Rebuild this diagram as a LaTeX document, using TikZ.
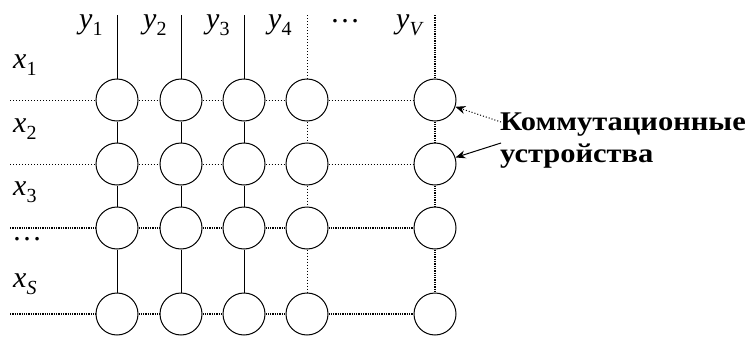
\documentclass[tikz,border=0pt]{standalone}
\usepackage{fontspec}
\setmainfont{Liberation Serif}
\usetikzlibrary{arrows.meta,positioning}

\newcommand{\idx}[2]{\textit{#1}\raisebox{-7pt}{\fontsize{20}{20}\selectfont #2}}
\newcommand{\wide}[1]{\scalebox{1.13}[1]{#1}}

\begin{document}
\begin{tikzpicture}[
  x=1pt, y=-1pt,
  sw/.style={circle, draw, line width=1pt, minimum size=42pt, inner sep=0pt},
  lbl/.style={font=\fontsize{30}{32}\selectfont, inner sep=0pt, anchor=base west},
  note/.style={font=\fontsize{27}{30}\selectfont\bfseries, inner sep=0pt, anchor=base west},
  solidw/.style={line width=1pt},
  dotw/.style={line width=1pt, dotted},
  ddotw/.style={line width=1.3pt, densely dotted},
  arr/.style={-{Stealth[length=10pt,width=8pt]}, line width=1pt},
]
\useasboundingbox (0,0) rectangle (747,340);
% switching devices
\foreach \c/\xx in {1/117,2/181,3/244,4/307,5/435}{
  \coordinate (t\c) at (\xx,15);
  \foreach \r/\yy in {1/100,2/164,3/228,4/314}{
    \node[sw] (s\r\c) at (\xx,\yy) {};
  }
}
\foreach \r/\yy in {1/100,2/164,3/228,4/314}
  \coordinate (l\r) at (10,\yy);
% columns
\foreach \c in {1,2,3}
  \draw[solidw] (t\c) -- (s1\c) (s1\c) -- (s2\c) (s2\c) -- (s3\c) (s3\c) -- (s4\c);
\draw[dotw] (t4) -- (s14) (s14) -- (s24) (s24) -- (s34) (s34) -- (s44);
\draw[ddotw] (t5) -- (s15) (s15) -- (s25) (s25) -- (s35) (s35) -- (s45);
% rows
\foreach \r in {1,2}
  \draw[dotw] (l\r) -- (s\r1) (s\r1) -- (s\r2) (s\r2) -- (s\r3) (s\r3) -- (s\r4) (s\r4) -- (s\r5);
\foreach \r in {3,4}
  \draw[ddotw] (l\r) -- (s\r1) (s\r1) -- (s\r2) (s\r2) -- (s\r3) (s\r3) -- (s\r4) (s\r4) -- (s\r5);
% labels
\node[lbl] (y1) at (79,28) {\idx{y}{1}};
\node[lbl] (y2) at (143,28) {\idx{y}{2}};
\node[lbl] (y3) at (206,28) {\idx{y}{3}};
\node[lbl] (y4) at (268,28) {\idx{y}{4}};
\node[lbl] (ydots) at (330,22) {\dots};
\node[lbl] (yV) at (396,28) {\idx{y}{\textit{V}}};
\node[lbl] (x1) at (13,68) {\idx{x}{1}};
\node[lbl] (x2) at (13,132) {\idx{x}{2}};
\node[lbl] (x3) at (13,195) {\idx{x}{3}};
\node[lbl] (xdots) at (12,240) {\dots};
\node[lbl] (xS) at (13,287) {\idx{x}{\textit{S}}};
% note
\node[note] (n1) at (500,130) {\wide{Коммутационные}};
\node[note] (n2) at (500,162) {\wide{устройства}};
\coordinate (a1) at (501,122);
\coordinate (a2) at (501,143);
\draw[arr, dotted] (a1) -- (s15);
\draw[arr] (a2) -- (s25);
\end{tikzpicture}
\end{document}
